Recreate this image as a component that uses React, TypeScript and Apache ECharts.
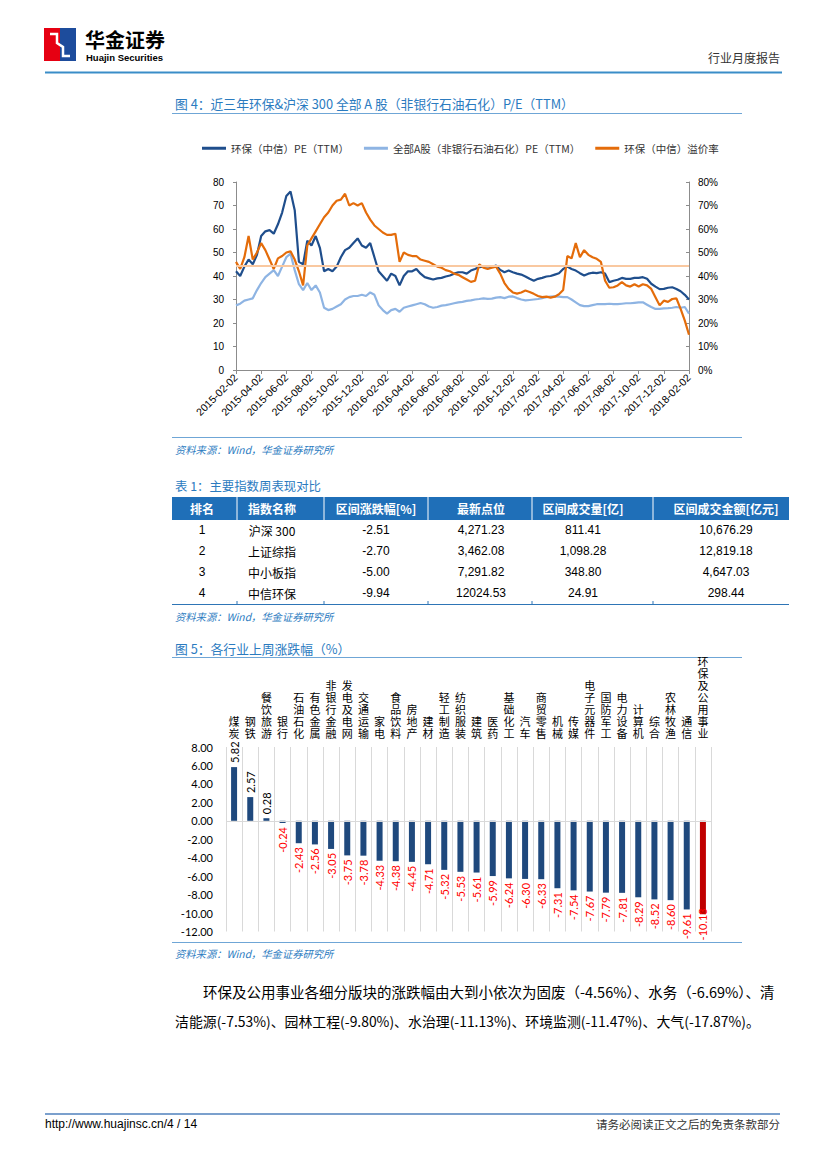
import React, { useEffect, useRef } from "react";
import * as echarts from "echarts";

// ---------- Figure 4 data ----------
const peTickLabels = [
  "2015-02-02", "2015-04-02", "2015-06-02", "2015-08-02", "2015-10-02", "2015-12-02",
  "2016-02-02", "2016-04-02", "2016-06-02", "2016-08-02", "2016-10-02", "2016-12-02",
  "2017-02-02", "2017-04-02", "2017-06-02", "2017-08-02", "2017-10-02", "2017-12-02",
  "2018-02-02",
];
const samplesPerTick = 6;

const hbPE = [
  42, 40, 44, 47, 45, 49, 57, 59, 59.5, 58, 62, 67, 74, 76, 68, 46, 45, 55, 53, 57,
  52, 42, 43, 42, 44, 48, 51, 52, 54, 56, 53, 52, 54, 48, 42, 40, 38, 41, 40, 36,
  40, 42, 42, 43, 41, 39.5, 39, 38.5, 39,
  39.2, 39.8, 40.2, 41, 41.6, 41.6, 41, 42.3, 43, 43.8, 44, 44.2, 43.8, 44.5, 42.6,
  41.6, 42.3, 41.6, 41, 40.6, 39.8, 38.8, 38, 38.8, 39.2, 39.8, 40, 40.6, 41.2, 43,
  44, 43, 42.3, 41.2, 40.2, 41, 41.4, 41.2, 41.6, 41, 37.4, 38, 38.4, 39.2, 38.8,
  38.8, 39.2, 39.2, 39.5, 38.8, 36.7, 35.5, 34.4, 34.5, 35, 35.2, 34.5, 33.5, 32, 30,
];
const allAPE = [
  27.5, 28.2, 29.5, 30, 30.5, 34, 37, 39.5, 41, 42.5, 40, 44, 48, 49.5, 42.5, 36.5, 34, 37, 34, 36,
  33, 26.5, 25.5, 26, 27, 28, 30, 31, 31.5, 31.5, 32, 31.5, 33, 32, 27.5, 25.5, 24, 25.5, 26, 24.8,
  26.5, 27, 27.5, 28, 28.5, 28, 27, 26.5, 26.8,
  27.4, 27.6, 28, 28.4, 28.8, 29, 29.4, 29.6, 30, 30.2, 30.5, 30.3, 30.4, 30.8, 31,
  30.6, 31.2, 31.3, 30.6, 30, 29.6, 29.8, 30, 30.2, 30.6, 31, 31.2, 31.3, 31.2, 31,
  31, 30, 28.8, 27.6, 27.2, 27.2, 27.6, 28, 28, 28, 28.2, 28, 28, 28.2, 28.4,
  28.4, 28.6, 28.8, 28.8, 27.8, 26.8, 26, 26, 26.2, 26.3, 26.5, 26.8, 26.5, 26.8, 24,
];
const premiumPct = [
  46, 43, 48, 57, 47, 50, 54, 51, 47, 43, 47.5, 48.5, 50, 50.5, 47, 42, 36, 53, 56, 59,
  62, 65, 67, 70, 72, 72.5, 75, 70, 71, 70, 71, 67, 64, 61.5, 60, 58.5, 57.5, 57.5, 58, 46,
  50, 49, 48.5, 48.5, 47, 46.5, 46, 45, 44,
  43.5, 42.5, 42, 41, 40.5, 39.5, 38.5, 37.5, 38, 45, 43.5, 43, 43.5, 44, 41,
  37, 34.5, 33, 32.5, 33, 33.8, 33.2, 32.4, 31.5, 31, 31.2, 30.8, 31.2, 32.2, 34,
  48.5, 47.5, 54, 48, 51, 49, 48, 47.3, 46, 38, 35, 35.2, 36, 37.4, 36,
  35.5, 36.5, 35.5, 36.5, 36, 34.5, 31, 27.5, 29.5, 29, 30.2, 30.5, 26, 21, 15,
];
const premiumRefLine = 44.5;
const seriesNames = ["环保（中信）PE（TTM）", "全部A股（非银行石油石化）PE（TTM）", "环保（中信）溢价率"];

// ---------- Table 1 ----------
const tableHeaders = ["排名", "指数名称", "区间涨跌幅[%]", "最新点位", "区间成交量[亿]", "区间成交金额[亿元]"];
const tableRank = ["1", "2", "3", "4"];
const tableIndexNames = ["沪深 300", "上证综指", "中小板指", "中信环保"];
const tableChange = ["-2.51", "-2.70", "-5.00", "-9.94"];
const tableLatest = ["4,271.23", "3,462.08", "7,291.82", "12024.53"];
const tableVolume = ["811.41", "1,098.28", "348.80", "24.91"];
const tableAmount = ["10,676.29", "12,819.18", "4,647.03", "298.44"];

// ---------- Figure 5 data ----------
const industries = [
  "煤炭", "钢铁", "餐饮旅游", "银行", "石油石化", "有色金属", "非银行金融", "发电及电网", "交通运输", "家电",
  "食品饮料", "房地产", "建材", "轻工制造", "纺织服装", "建筑", "医药", "基础化工", "汽车", "商贸零售",
  "机械", "传媒", "电子元器件", "国防军工", "电力设备", "计算机", "综合", "农林牧渔", "通信", "环保及公用事业",
];
const industryChange = [
  5.82, 2.57, 0.28, -0.24, -2.43, -2.56, -3.05, -3.75, -3.78, -4.33,
  -4.38, -4.45, -4.71, -5.32, -5.53, -5.61, -5.99, -6.24, -6.30, -6.33,
  -7.31, -7.54, -7.67, -7.79, -7.81, -8.29, -8.52, -8.60, -9.61, -10.13,
];
const highlightIndustry = "环保及公用事业";
const barTicks = { min: -12, max: 8, interval: 2 };

const paragraphLines = [
  "环保及公用事业各细分版块的涨跌幅由大到小依次为固废（-4.56%）、水务（-6.69%）、清",
  "洁能源(-7.53%)、园林工程(-9.80%)、水治理(-11.13%)、环境监测(-11.47%)、大气(-17.87%)。",
];

const CJK = "'Noto Sans CJK SC', 'Liberation Sans', sans-serif";
const ARIAL = "'Liberation Sans', 'Noto Sans CJK SC', sans-serif";
const CAL = "Lato, 'Noto Sans CJK SC', sans-serif";
const BLUE_TXT = "#2B7BBF";
const RULE = "#6FA6D6";

function txt(text: string, x: number, y: number, o: any = {}) {
  return {
    type: "text",
    x,
    y,
    silent: true,
    style: {
      text,
      fill: o.fill || "#000",
      fontSize: o.fontSize || 12,
      fontFamily: o.fontFamily || CJK,
      fontWeight: o.fontWeight || "normal",
      fontStyle: o.fontStyle || "normal",
      align: o.align || "left",
      verticalAlign: "middle",
    },
  };
}
function ln(x1: number, y1: number, x2: number, y2: number, stroke: string, lineWidth = 1) {
  return { type: "line", silent: true, shape: { x1, y1, x2, y2 }, style: { stroke, lineWidth } };
}

export default function App() {
  const ref = useRef<HTMLDivElement>(null);
  useEffect(() => {
    if (!ref.current) return;
    const chart = echarts.init(ref.current, null, { renderer: "svg" });

    const graphics: any[] = [];
    // header
    graphics.push({ type: "rect", silent: true, shape: { x: 44, y: 28, width: 16, height: 33 }, style: { fill: "#E60012" } });
    graphics.push({ type: "rect", silent: true, shape: { x: 60, y: 28, width: 16, height: 33 }, style: { fill: "#1D4C9C" } });
    graphics.push({
      type: "polyline", silent: true,
      shape: { points: [[50, 34], [57, 34], [57, 43], [63, 47], [63, 56], [70, 56]] },
      style: { stroke: "#fff", lineWidth: 2.5, fill: null },
    });
    graphics.push(txt("华金证券", 85, 39, { fontSize: 20, fontWeight: "bold" }));
    graphics.push(txt("Huajin Securities", 86, 57.5, { fontSize: 9.5, fontWeight: "bold", fontFamily: ARIAL }));
    graphics.push(txt("行业月度报告", 780, 57, { fontSize: 12, align: "right", fill: "#333" }));
    graphics.push(ln(45, 72.5, 782, 72.5, "#3A8DC8", 2));

    // figure 4 title
    graphics.push(txt("图 4：近三年环保&沪深 300 全部 A 股（非银行石油石化）P/E（TTM）", 175, 103, { fontSize: 12.8, fill: BLUE_TXT }));
    graphics.push(ln(172, 113.5, 742, 113.5, RULE, 1));
    graphics.push(ln(172, 437.5, 742, 437.5, RULE, 1));
    graphics.push(txt("资料来源：Wind，华金证券研究所", 175, 449, { fontSize: 10.3, fill: BLUE_TXT, fontStyle: "italic" }));

    // table
    graphics.push(txt("表 1：主要指数周表现对比", 175, 486, { fontSize: 12.4, fill: BLUE_TXT }));
    const tableTop = 497, headerH = 23, rowH = 21;
    const colCenters = [202, 272, 376, 481, 583, 726];
    const colSeps = [237, 324, 428, 532, 653];
    graphics.push({ type: "rect", silent: true, shape: { x: 172, y: tableTop, width: 617, height: headerH }, style: { fill: "#1F6FB8" } });
    colSeps.forEach((s) => graphics.push(ln(s, tableTop, s, tableTop + headerH, "#ffffff", 1)));
    tableHeaders.forEach((h, i) =>
      graphics.push(txt(h, colCenters[i], tableTop + headerH / 2, { fontSize: 12, fontWeight: "bold", fill: "#fff", align: "center" }))
    );
    const cols = [tableRank, tableIndexNames, tableChange, tableLatest, tableVolume, tableAmount];
    tableRank.forEach((_, r) => {
      const cy = tableTop + headerH + 10 + r * rowH;
      cols.forEach((col, c) =>
        graphics.push(txt(col[r], colCenters[c], cy, { fontSize: 12, fontFamily: c === 1 ? CJK : ARIAL, align: "center" }))
      );
    });
    graphics.push(ln(172, 604.5, 789, 604.5, "#2E75B6", 1));
    colSeps.forEach((s) => graphics.push(ln(s, 601, s, 604.5, "#2E75B6", 1)));
    graphics.push(txt("资料来源：Wind，华金证券研究所", 175, 616, { fontSize: 10.3, fill: BLUE_TXT, fontStyle: "italic" }));

    // figure 5
    graphics.push(txt("图 5：各行业上周涨跌幅（%）", 175, 648, { fontSize: 12.8, fill: BLUE_TXT }));
    graphics.push(ln(172, 657.5, 742, 657.5, RULE, 1));
    graphics.push(ln(172, 942.5, 742, 942.5, RULE, 1));
    graphics.push(txt("资料来源：Wind，华金证券研究所", 175, 953, { fontSize: 10.3, fill: BLUE_TXT, fontStyle: "italic" }));

    // paragraph
    graphics.push(txt(paragraphLines[0], 203, 991, { fontSize: 14.5 }));
    graphics.push(txt(paragraphLines[1], 175, 1021, { fontSize: 13.9 }));

    // footer
    graphics.push(ln(45, 1114, 780, 1114, "#4F81BD", 1.5));
    graphics.push(txt("http://www.huajinsc.cn/4 / 14", 45, 1124, { fontSize: 12, fontFamily: ARIAL }));
    graphics.push(txt("请务必阅读正文之后的免责条款部分", 780, 1124, { fontSize: 11.5, align: "right", fill: "#333" }));

    const toXY = (arr: number[]) => arr.map((v, i) => [i, v]);
    const maxIdx = (peTickLabels.length - 1) * samplesPerTick;

    const option: any = {
      animation: false,
      backgroundColor: "#fff",
      textStyle: { fontFamily: ARIAL },
      legend: {
        data: seriesNames,
        left: 197,
        top: 138,
        itemWidth: 24,
        itemHeight: 3,
        itemGap: 15,
        icon: "rect",
        textStyle: { fontSize: 10.5, color: "#333", fontFamily: CJK },
      },
      grid: [
        { left: 236, top: 182, width: 453, height: 188 },
        { left: 226, top: 747, width: 485, height: 184.5 },
      ],
      xAxis: [
        {
          type: "value",
          gridIndex: 0,
          min: 0,
          max: maxIdx,
          interval: samplesPerTick,
          axisLine: { lineStyle: { color: "#8C8C8C" } },
          axisTick: { show: true, length: 4, lineStyle: { color: "#8C8C8C" } },
          splitLine: { show: false },
          axisLabel: {
            rotate: 45,
            fontSize: 10.5,
            color: "#000",
            margin: 6,
            formatter: (v: number) => peTickLabels[Math.round(v / samplesPerTick)] || "",
          },
        },
        {
          type: "category",
          gridIndex: 1,
          position: "top",
          data: industries,
          axisLine: { show: false },
          axisTick: { show: false },
          splitLine: { show: true, interval: 0, lineStyle: { color: "#D9D9D9" } },
          axisLabel: {
            interval: 0,
            margin: 7,
            fontSize: 11,
            lineHeight: 12,
            color: "#000",
            fontFamily: ARIAL,
            formatter: (v: string) => v.split("").join("\n"),
          },
        },
      ],
      yAxis: [
        {
          type: "value",
          gridIndex: 0,
          min: 0,
          max: 80,
          interval: 10,
          axisLine: { show: true, lineStyle: { color: "#8C8C8C" } },
          axisTick: { show: true, length: 3, lineStyle: { color: "#8C8C8C" } },
          splitLine: { show: false },
          axisLabel: { fontSize: 10, color: "#000", margin: 12 },
        },
        {
          type: "value",
          gridIndex: 0,
          position: "right",
          min: 0,
          max: 80,
          interval: 10,
          axisLine: { show: true, lineStyle: { color: "#8C8C8C" } },
          axisTick: { show: true, inside: true, length: 3, lineStyle: { color: "#8C8C8C" } },
          splitLine: { show: false },
          axisLabel: { fontSize: 10, color: "#000", margin: 9, formatter: (v: number) => v + "%" },
        },
        {
          type: "value",
          gridIndex: 1,
          min: barTicks.min,
          max: barTicks.max,
          interval: barTicks.interval,
          axisLine: { show: false },
          axisTick: { show: false },
          splitLine: { show: false },
          axisLabel: { fontSize: 11, color: "#000", margin: 13, fontFamily: CAL, formatter: (v: number) => v.toFixed(2) },
        },
      ],
      series: [
        {
          name: seriesNames[0],
          type: "line",
          xAxisIndex: 0,
          yAxisIndex: 0,
          data: toXY(hbPE),
          symbol: "none",
          color: "#1F4E8C",
          lineStyle: { width: 2.2, color: "#1F4E8C" },
          z: 3,
        },
        {
          name: seriesNames[1],
          type: "line",
          xAxisIndex: 0,
          yAxisIndex: 0,
          data: toXY(allAPE),
          symbol: "none",
          color: "#8EB4E3",
          lineStyle: { width: 2.2, color: "#8EB4E3" },
          z: 2,
        },
        {
          name: seriesNames[2],
          type: "line",
          xAxisIndex: 0,
          yAxisIndex: 1,
          data: toXY(premiumPct),
          symbol: "none",
          color: "#E46C0A",
          lineStyle: { width: 2.2, color: "#E46C0A" },
          z: 4,
          markLine: {
            silent: true,
            symbol: "none",
            label: { show: false },
            lineStyle: { color: "#F9C8A0", width: 2, type: "solid" },
            data: [{ yAxis: premiumRefLine }],
          },
        },
        {
          name: "涨跌幅",
          type: "bar",
          xAxisIndex: 1,
          yAxisIndex: 2,
          barWidth: 6,
          data: industryChange.map((v, i) => {
            const hl = industries[i] === highlightIndustry;
            return {
              value: v,
              itemStyle: { color: hl ? "#C00000" : "#1F497D" },
              label: v >= 0
                ? { position: "top", align: "left", color: "#000" }
                : { position: "bottom", align: "right", color: "#FF0000", distance: hl ? -6 : 4 },
            };
          }),
          label: {
            show: true,
            rotate: 90,
            distance: 4,
            verticalAlign: "middle",
            fontSize: 11,
            fontFamily: CAL,
            formatter: (p: any) => Number(p.value).toFixed(2),
          },
          markLine: {
            silent: true,
            symbol: "none",
            label: { show: false },
            lineStyle: { color: "#D9D9D9", width: 1, type: "solid" },
            data: [{ yAxis: 0 }],
          },
        },
      ],
      graphic: graphics,
    };
    chart.setOption(option);
    return () => chart.dispose();
  }, []);

  return (
    <div
      ref={ref}
      style={{ position: "absolute", left: 0, top: 0, width: 827, height: 1169, background: "#fff" }}
    />
  );
}
